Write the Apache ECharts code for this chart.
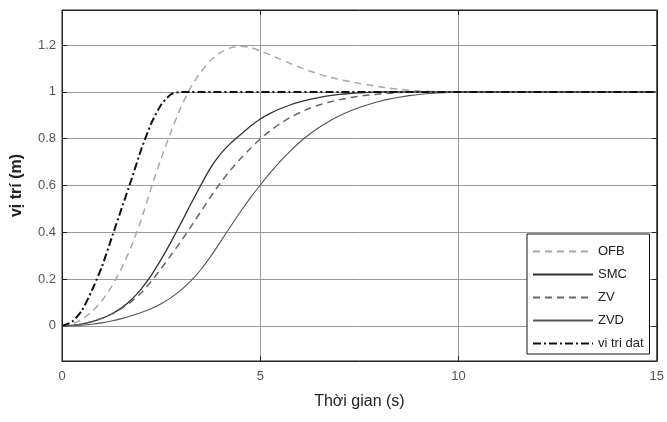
<!DOCTYPE html>
<html><head><meta charset="utf-8">
<script src="https://cdn.jsdelivr.net/npm/echarts@6/dist/echarts.min.js"></script>
<style>html,body{margin:0;padding:0;background:#fff}#c{width:667px;height:422px}</style>
</head><body><div id="c"></div>
<script>
// time (s)
const t = [0,0.25,0.5,0.75,1,1.25,1.5,1.75,2,2.25,2.5,2.75,3,3.25,3.5,3.75,4,4.25,4.5,4.75,5,5.25,5.5,5.75,6,6.25,6.5,6.75,7,7.25,7.5,7.75,8,8.25,8.5,8.75,9,9.25,9.5,9.75,10,11,12,13,14,15];
const seriesNames = ["OFB","SMC","ZV","ZVD","vi tri dat"];
const ofb = [0,0.008,0.028,0.06,0.106,0.168,0.246,0.34,0.455,0.59,0.715,0.83,0.935,1.02,1.085,1.135,1.168,1.188,1.195,1.19,1.175,1.158,1.14,1.122,1.105,1.089,1.075,1.063,1.053,1.044,1.036,1.029,1.022,1.016,1.011,1.007,1.004,1.002,1.001,1,1,1,1,1,1,1];
const smc = [0,0.002,0.008,0.018,0.032,0.051,0.077,0.112,0.158,0.216,0.284,0.359,0.439,0.521,0.601,0.676,0.735,0.78,0.817,0.853,0.884,0.908,0.928,0.944,0.957,0.968,0.977,0.984,0.989,0.993,0.996,0.998,1,1,1,1,1,1,1,1,1,1,1,1,1,1];
const zv = [0,0.002,0.008,0.018,0.032,0.05,0.074,0.104,0.142,0.19,0.245,0.303,0.362,0.424,0.488,0.552,0.612,0.666,0.714,0.758,0.799,0.834,0.864,0.89,0.912,0.93,0.945,0.957,0.967,0.975,0.982,0.987,0.991,0.994,0.997,0.999,1,1,1,1,1,1,1,1,1,1];
const zvd = [0,0.001,0.003,0.007,0.013,0.021,0.031,0.043,0.057,0.074,0.095,0.121,0.153,0.192,0.24,0.297,0.36,0.425,0.488,0.547,0.602,0.654,0.702,0.746,0.786,0.82,0.85,0.876,0.898,0.917,0.933,0.947,0.959,0.969,0.977,0.984,0.989,0.993,0.996,0.998,1,1,1,1,1,1];
const ref = [0,0.017,0.065,0.15,0.25,0.375,0.50,0.625,0.755,0.865,0.945,0.99,1,1,1,1,1,1,1,1,1,1,1,1,1,1,1,1,1,1,1,1,1,1,1,1,1,1,1,1,1,1,1,1,1,1];
const xTicks = [0,5,10,15];
const yTicks = [0,0.2,0.4,0.6,0.8,1,1.2];

const pairs = arr => t.map((x,i)=>[x,arr[i]]);
const font = "Liberation Sans, Arial, sans-serif";
const styles = [
  {color:"#a8a8a8", width:1.5, type:[7,5]},
  {color:"#333333", width:1.3, type:"solid"},
  {color:"#666666", width:1.5, type:[7,5]},
  {color:"#555555", width:1.1, type:"solid"},
  {color:"#111111", width:2, type:[8,3,2,3]}
];
const datas = [ofb, smc, zv, zvd, ref];
const axisCommon = {
  axisLine:{show:true, onZero:false, lineStyle:{color:"#222"}},
  axisTick:{show:true, inside:true, length:5, lineStyle:{color:"#222"}}
};

const chart = echarts.init(document.getElementById('c'), null, {renderer:'canvas'});
chart.setOption({
  animation:false,
  backgroundColor:"#fff",
  grid:{left:62, right:10, top:10, bottom:61, show:true, borderColor:"#222", borderWidth:1},
  legend:{
    orient:"vertical", left:527, top:234,
    data:seriesNames,
    backgroundColor:"#fff", borderColor:"#111", borderWidth:1,
    padding:[11,6,4,5], itemGap:10, itemWidth:60, itemHeight:14,
    itemStyle:{opacity:0},
    textStyle:{fontFamily:font, fontSize:13, color:"#222"}
  },
  xAxis:[Object.assign({
    type:"value", min:0, max:15, interval:5,
    name:"Thời gian (s)", nameLocation:"middle", nameGap:33,
    nameTextStyle:{fontFamily:font, fontSize:16, color:"#222"},
    axisLabel:{fontFamily:font, fontSize:13, color:"#555", margin:9,
      formatter:v=>xTicks.includes(v)?String(v):""},
    splitLine:{show:true, lineStyle:{color:"#9a9a9a", width:1}}
  }, axisCommon), Object.assign({
    type:"value", position:"top", min:0, max:15, interval:5,
    axisLabel:{show:false}, splitLine:{show:false}
  }, axisCommon)],
  yAxis:[Object.assign({
    type:"value", min:-0.15, max:1.35, splitNumber:7,
    name:"vị trí (m)", nameLocation:"middle", nameGap:37, nameRotate:90,
    nameTextStyle:{fontFamily:font, fontSize:16, color:"#222", fontWeight:"bold"},
    axisLabel:{fontFamily:font, fontSize:13, color:"#555", margin:6, showMinLabel:false, showMaxLabel:false,
      formatter:v=>{const r=Math.round(v*10)/10; return (Math.abs(v-r)<1e-6 && yTicks.some(y=>Math.abs(y-r)<1e-6))?String(r):"";}},
    splitLine:{show:true, lineStyle:{color:"#9a9a9a", width:1}}
  }, axisCommon), Object.assign({
    type:"value", position:"right", min:-0.15, max:1.35, splitNumber:7,
    axisLabel:{show:false}, splitLine:{show:false}
  }, axisCommon)],
  series: seriesNames.map((n,i)=>({
    name:n, type:"line", xAxisIndex:0, yAxisIndex:0,
    data:pairs(datas[i]), showSymbol:false, symbol:"none",
    smooth:0.2, z: i===4?5:2,
    lineStyle:{color:styles[i].color, width:styles[i].width, type:styles[i].type},
    itemStyle:{color:styles[i].color}
  }))
});
</script></body></html>
